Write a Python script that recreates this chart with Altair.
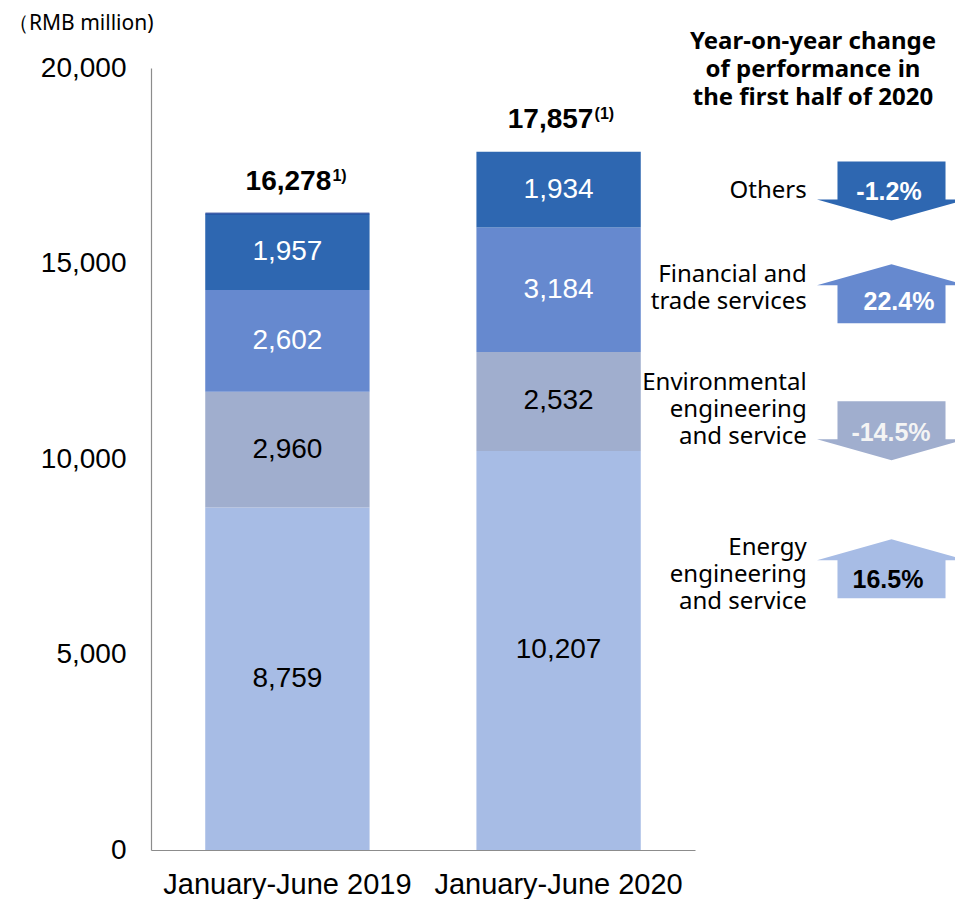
import altair as alt
import pandas as pd

# ---------------- data ----------------
periods = ["January-June 2019", "January-June 2020"]
segments = [
    "Energy engineering and service",
    "Environmental engineering and service",
    "Financial and trade services",
    "Others",
]
values_2019 = [8759, 2960, 2602, 1957]
values_2020 = [10207, 2532, 3184, 1934]
totals = [16278, 17857]
total_notes = ["1)", "(1)"]
yoy_change = ["16.5%", "-14.5%", "22.4%", "-1.2%"]
yoy_direction = ["up", "down", "up", "down"]
segment_labels = [
    "Energy\nengineering\nand service",
    "Environmental\nengineering\nand service",
    "Financial and\ntrade services",
    "Others",
]
unit_label = "（RMB million)"
side_title = "Year-on-year change\nof performance in\nthe first half of 2020"

# ---------------- styles / layout ----------------
seg_colors = ["#A7BCE5", "#A0AECE", "#6689CF", "#2E67B1"]
value_text_colors = ["black", "black", "white", "white"]
arrow_text_colors = ["black", "#F4F4F4", "white", "white"]
FONT_NUM = "Liberation Sans"
FONT_TXT = "Noto Sans"
W, H = 544, 782
total_dx = [1, -8]
top_edge_period = "January-June 2019"
# right-hand annotation layout, in pixels relative to the plot area
arrow_cx = 740.5
arrow_cy = [500.7, 362.7, 225.7, 123.0]
pct_x = [737, 740, 748, 738]
pct_y = [512, 364.7, 233.7, 123.7]
label_x = 655.7
label_first_y = [480.3, 315.3, 207.0, 123.0]
ARROW_UP = "M-0.725,0.396L0.725,0.396L0.725,-0.115L1,-0.115L0,-0.396L-1,-0.115L-0.725,-0.115Z"
ARROW_DOWN = "M-0.725,-0.396L0.725,-0.396L0.725,0.115L1,0.115L0,0.396L-1,0.115L-0.725,0.115Z"

# ---------------- tables ----------------
rows = []
for p, vals in zip(periods, [values_2019, values_2020]):
    cum = 0
    for j, (s, v) in enumerate(zip(segments, vals)):
        rows.append({
            "period": p, "segment": s, "value": v, "order": j,
            "mid": cum + v / 2, "label": f"{v:,}", "tcolor": value_text_colors[j],
        })
        cum += v
bars_df = pd.DataFrame(rows)

tot_df = pd.DataFrame({
    "period": periods, "total": totals,
    "label": [f"{t:,}" for t in totals], "note": total_notes,
})

ann_df = pd.DataFrame({
    "segment": segments,
    "pct": yoy_change,
    "path": [ARROW_UP if d == "up" else ARROW_DOWN for d in yoy_direction],
    "acolor": seg_colors,
    "pcolor": arrow_text_colors,
    "ax": [arrow_cx] * 4,
    "ay": arrow_cy,
    "px": pct_x,
    "py": pct_y,
    "lx": [label_x] * 4,
    "ly": label_first_y,
    "seglabel": segment_labels,
})

text_df = pd.DataFrame({
    "txt": [unit_label, side_title],
    "x": [-143, 662],
    "y": [-44, -26.3],
    "kind": ["unit", "title"],
})

# ---------------- bar part (shared scales) ----------------
x_scale = alt.Scale(domain=periods, paddingInner=0.394, paddingOuter=0.2)
y_scale = alt.Scale(domain=[0, 20000], nice=False)

x_enc = alt.X(
    "period:N", sort=periods, title=None, scale=x_scale,
    axis=alt.Axis(labelAngle=0, labelFont=FONT_NUM, labelFontSize=29, labelColor="black",
                  labelLimit=0, ticks=False, tickSize=0, labelPadding=20,
                  domainColor="#8C8C8C", domainWidth=1.2),
)
y_enc = alt.Y(
    "value:Q", stack="zero", title=None, scale=y_scale,
    axis=alt.Axis(values=[0, 5000, 10000, 15000, 20000],
                  labelExpr="format(datum.value, ',')", grid=False,
                  labelFont=FONT_NUM, labelFontSize=28, labelColor="black",
                  ticks=False, tickSize=0, labelPadding=25,
                  domainColor="#8C8C8C", domainWidth=1.2),
)

bars = alt.Chart(bars_df).mark_bar().encode(
    x=x_enc,
    y=y_enc,
    color=alt.Color("segment:N", scale=alt.Scale(domain=segments, range=seg_colors), legend=None),
    order=alt.Order("order:Q"),
)

top_edge = alt.Chart(tot_df).transform_filter(alt.datum.period == top_edge_period).mark_tick(
    color="#1B3C95", thickness=2, size=164
).encode(x=alt.X("period:N", sort=periods), y=alt.Y("total:Q"))

values = alt.Chart(bars_df).mark_text(font=FONT_NUM, fontSize=28, baseline="middle").encode(
    x=alt.X("period:N", sort=periods),
    y=alt.Y("mid:Q"),
    text="label:N",
    color=alt.Color("tcolor:N", scale=None),
)

tot_layers = []
for p, dx in zip(periods, total_dx):
    base = alt.Chart(tot_df).transform_filter(alt.datum.period == p)
    tot_layers.append(base.mark_text(
        font=FONT_NUM, fontSize=28, fontWeight="bold", baseline="alphabetic",
        dx=dx, dy=-24, color="black"
    ).encode(x=alt.X("period:N", sort=periods), y=alt.Y("total:Q"), text="label:N"))
    tot_layers.append(base.mark_text(
        font=FONT_NUM, fontSize=16, fontWeight="bold", baseline="alphabetic", align="left",
        dx=dx + 44, dy=-33, color="black"
    ).encode(x=alt.X("period:N", sort=periods), y=alt.Y("total:Q"), text="note:N"))

bar_part = alt.layer(bars, top_edge, values, *tot_layers).resolve_scale(color="independent")

# ---------------- annotation part (pixel layout) ----------------
arrows = alt.Chart(ann_df).mark_point(filled=True, opacity=1, strokeWidth=0, size=22201).encode(
    x=alt.X("ax:Q", scale=None, axis=None),
    y=alt.Y("ay:Q", scale=None, axis=None),
    shape=alt.Shape("path:N", scale=None),
    color=alt.Color("acolor:N", scale=None),
)

pcts = alt.Chart(ann_df).mark_text(font=FONT_NUM, fontSize=25, fontWeight="bold", baseline="middle").encode(
    x=alt.X("px:Q", scale=None, axis=None),
    y=alt.Y("py:Q", scale=None, axis=None),
    text="pct:N",
    color=alt.Color("pcolor:N", scale=None),
)

seglabels = alt.Chart(ann_df).mark_text(
    font=FONT_TXT, fontSize=24, baseline="middle", align="right", lineBreak="\n",
    lineHeight=26.7, color="black"
).encode(
    x=alt.X("lx:Q", scale=None, axis=None),
    y=alt.Y("ly:Q", scale=None, axis=None),
    text="seglabel:N",
)

unit = alt.Chart(text_df).transform_filter(alt.datum.kind == "unit").mark_text(
    font=FONT_TXT, fontSize=21, baseline="middle", align="left", color="black"
).encode(
    x=alt.X("x:Q", scale=None, axis=None),
    y=alt.Y("y:Q", scale=None, axis=None),
    text="txt:N",
)

title = alt.Chart(text_df).transform_filter(alt.datum.kind == "title").mark_text(
    font=FONT_TXT, fontSize=24, fontWeight="bold", baseline="middle", align="center",
    lineBreak="\n", lineHeight=28.2, color="black"
).encode(
    x=alt.X("x:Q", scale=None, axis=None),
    y=alt.Y("y:Q", scale=None, axis=None),
    text="txt:N",
)

ann_part = alt.layer(arrows, pcts, seglabels, unit, title)

chart = alt.layer(bar_part, ann_part).resolve_scale(
    x="independent", y="independent", color="independent", shape="independent"
).properties(
    width=W, height=H,
    padding={"left": 143, "top": 60, "right": 260, "bottom": 49},
    autosize=alt.AutoSizeParams(type="none"),
    background="white",
).configure_view(stroke=None)

chart.save("out.html", embed_options={"renderer": "svg", "actions": False})
